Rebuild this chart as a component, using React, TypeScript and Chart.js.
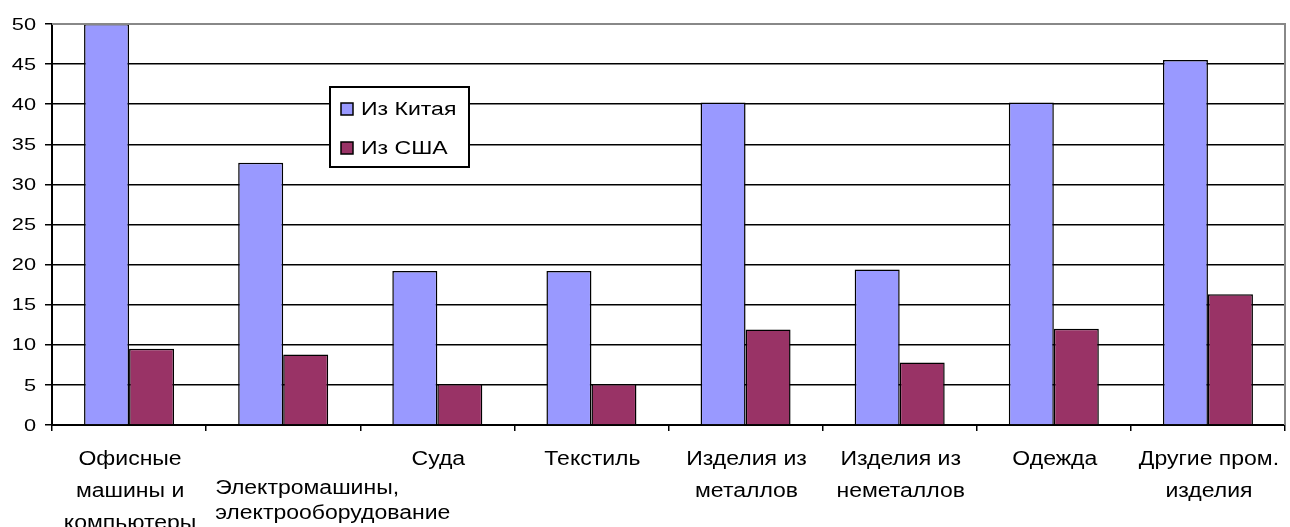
import React, { useEffect, useRef } from "react";
import { Chart, registerables } from "chart.js";

Chart.register(...registerables);

const categories: string[][] = [
  ["Офисные", "машины и", "компьютеры"],
  ["Электромашины,", "электрооборудование"],
  ["Суда"],
  ["Текстиль"],
  ["Изделия из", "металлов"],
  ["Изделия из", "неметаллов"],
  ["Одежда"],
  ["Другие пром.", "изделия"],
];
const seriesNames = ["Из Китая", "Из США"];
const chinaValues = [50, 32.7, 19.2, 19.2, 40.2, 19.4, 40.2, 45.5];
const usaValues = [9.5, 8.8, 5.1, 5.1, 11.9, 7.8, 12.0, 16.3];
const seriesColors = ["#9999FF", "#993366"];
const yMin = 0;
const yMax = 50;
const yStep = 5;

const FONT = '"Liberation Sans", Arial, sans-serif';
const Y_FONT = 17;
const Y_SX = 1.28;
const X_FONT = 20;
const X_SX = 1.15;
const L_FONT = 18;
const L_SX = 1.28;

function drawStretched(
  ctx: CanvasRenderingContext2D,
  text: string,
  x: number,
  y: number,
  align: CanvasTextAlign,
  sx: number
) {
  ctx.save();
  ctx.translate(x, y);
  ctx.scale(sx, 1);
  ctx.textAlign = align;
  ctx.fillText(text, 0, 0);
  ctx.restore();
}

const framePlugin = {
  id: "frame",
  afterDraw(chart: any) {
    const { ctx, chartArea } = chart;
    ctx.save();
    ctx.strokeStyle = "#888888";
    ctx.lineWidth = 2;
    ctx.beginPath();
    ctx.moveTo(chartArea.left, chartArea.top);
    ctx.lineTo(chartArea.right, chartArea.top);
    ctx.lineTo(chartArea.right, chartArea.bottom);
    ctx.stroke();
    ctx.restore();
  },
};

const xLabelPlugin = {
  id: "xLabels",
  afterDraw(chart: any) {
    const { ctx } = chart;
    const scale = chart.scales.x;
    const n = chart.data.labels.length;
    const cat = scale.width / n;
    ctx.save();
    ctx.font = `${X_FONT}px ${FONT}`;
    ctx.fillStyle = "#000";
    ctx.textBaseline = "middle";
    chart.data.labels.forEach((lines: string[], i: number) => {
      const cx = scale.getPixelForTick(i);
      const widest = Math.max(...lines.map((l) => ctx.measureText(l).width * X_SX));
      const overflow = widest > cat;
      let y0 = scale.top + 34;
      let lh = 32;
      if (overflow) {
        y0 = scale.top + 63;
        lh = 25;
      }
      const x = overflow ? cx - cat / 2 + 9 : cx + 1;
      lines.forEach((line, j) =>
        drawStretched(ctx, line, x, y0 + j * lh, overflow ? "left" : "center", X_SX)
      );
    });
    ctx.restore();
  },
};

const yLabelPlugin = {
  id: "yLabels",
  afterDraw(chart: any) {
    const { ctx } = chart;
    const scale = chart.scales.y;
    ctx.save();
    ctx.font = `${Y_FONT}px ${FONT}`;
    ctx.fillStyle = "#000";
    ctx.textBaseline = "middle";
    scale.ticks.forEach((t: any) => {
      const y = scale.getPixelForValue(t.value);
      drawStretched(ctx, String(t.value), scale.right - 16, y + 1, "right", Y_SX);
    });
    ctx.restore();
  },
};

const legendPlugin = {
  id: "innerLegend",
  afterDraw(chart: any) {
    const { ctx } = chart;
    ctx.save();
    const x = 330, y = 87, w = 139, h = 80;
    ctx.fillStyle = "#ffffff";
    ctx.fillRect(x, y, w, h);
    ctx.strokeStyle = "#000";
    ctx.lineWidth = 2;
    ctx.strokeRect(x, y, w, h);
    chart.data.datasets.forEach((ds: any, i: number) => {
      const cy = 109 + i * 39;
      ctx.fillStyle = ds.backgroundColor;
      ctx.fillRect(341, cy - 6, 12, 12);
      ctx.lineWidth = 1.5;
      ctx.strokeStyle = "#000";
      ctx.strokeRect(341, cy - 6, 12, 12);
      ctx.fillStyle = "#000";
      ctx.font = `${L_FONT}px ${FONT}`;
      ctx.textBaseline = "middle";
      drawStretched(ctx, ds.label, 361, cy + 1, "left", L_SX);
    });
    ctx.restore();
  },
};

export default function App() {
  const ref = useRef<HTMLCanvasElement | null>(null);
  useEffect(() => {
    if (!ref.current) return;
    document.body.style.margin = "0";
    const chart = new Chart(ref.current, {
      type: "bar",
      data: {
        labels: categories,
        datasets: [
          {
            label: seriesNames[0],
            data: chinaValues,
            backgroundColor: seriesColors[0],
            borderColor: "#000",
            borderWidth: 1.5,
            categoryPercentage: 0.584,
            barPercentage: 1,
          },
          {
            label: seriesNames[1],
            data: usaValues,
            backgroundColor: seriesColors[1],
            borderColor: "#000",
            borderWidth: 1.5,
            categoryPercentage: 0.584,
            barPercentage: 1,
          },
        ],
      },
      options: {
        responsive: false,
        animation: false,
        devicePixelRatio: 1,
        layout: { padding: { top: 24, right: 5, left: 0, bottom: 0 } },
        plugins: {
          legend: { display: false },
          tooltip: { enabled: false },
        },
        scales: {
          x: {
            grid: {
              drawOnChartArea: false,
              offset: true,
              tickLength: 6,
              color: "#000",
              lineWidth: 1.5,
            },
            border: { color: "#000", width: 2 },
            ticks: {
              display: false,
              autoSkip: false,
            },
            afterFit(scale: any) {
              scale.height = 102;
            },
          },
          y: {
            min: yMin,
            max: yMax,
            ticks: {
              stepSize: yStep,
              display: false,
            },
            grid: {
              color: (c: any) => (c.tick && c.tick.value === yMax ? "#888888" : "#000"),
              lineWidth: 1.5,
              tickLength: 7,
              tickColor: "#000",
            },
            border: { color: "#000", width: 2 },
            afterFit(scale: any) {
              scale.width = 52;
            },
          },
        },
      },
      plugins: [framePlugin, xLabelPlugin, yLabelPlugin, legendPlugin],
    });
    return () => chart.destroy();
  }, []);
  return (
    <div style={{ position: "fixed", left: 0, top: 0, width: 1290, height: 527 }}>
      <canvas ref={ref} width={1290} height={527} />
    </div>
  );
}
